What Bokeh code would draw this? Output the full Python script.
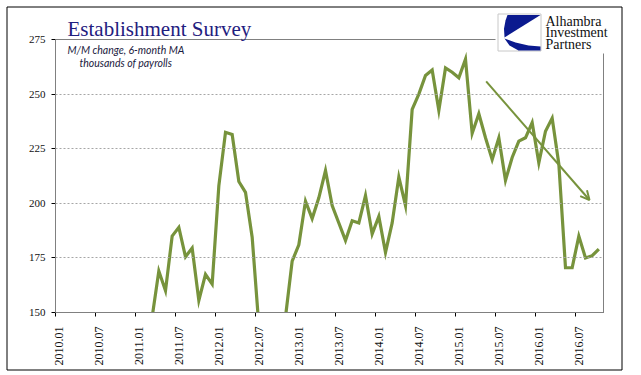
from bokeh.plotting import figure
from bokeh.models import (FixedTicker, Range1d, Label, BoxAnnotation, PolyAnnotation,
                          Arrow, OpenHead, ColumnDataSource)
from bokeh.embed import file_html
from bokeh.resources import INLINE

# ---------------- data ----------------
TICK_LABELS = ["2010.01", "2010.07", "2011.01", "2011.07", "2012.01", "2012.07", "2013.01",
               "2013.07", "2014.01", "2014.07", "2015.01", "2015.07", "2016.01", "2016.07"]
TICK_POS = [0, 6, 12, 18, 24, 30, 36, 42, 48, 54, 60, 66, 72, 78]   # month index of each label
MONTH_INDEX = list(range(82))                                        # 2010.01 .. 2016.10
PAYROLLS_MA6 = [62, 80, 105, 130, 140, 118, 96, 82, 74, 90, 104, 112, 122, 136, 148,
                169, 160, 185, 189, 175.5, 179.5, 155.5, 167.5, 163, 208, 232.5, 231.5, 210,
                205, 184.5, 144, 135, 128, 135, 148, 173.5, 181, 201, 193, 202.5, 215, 199,
                191, 183, 192, 191, 203.5, 186, 194, 177.5, 191, 212, 199, 243, 250, 258.5,
                261, 242.5, 262, 260, 257.5, 266, 232, 241, 230, 220, 230, 210.5, 221, 228.5,
                230, 237, 218.5, 233, 239, 218, 170.5, 170.5, 185, 175, 176, 179]
Y_TICKS = [150, 175, 200, 225, 250, 275]
GRID_TICKS = [175, 200, 225, 250]
ARROW_START = (64.1, 255.8)
ARROW_END = (79.6, 201.5)

TITLE = "Establishment Survey"
SUBTITLE_1 = "M/M change, 6-month MA"
SUBTITLE_2 = "thousands of payrolls"
LOGO_LINES = ["Alhambra", "Investment", "Partners"]

GREEN = "#77933C"
NAVY = "#1F2080"
LOGO_BLUE = "#0B1A8F"

# ---------------- layout geometry (canvas pixels) ----------------
W, H = 623, 371
FL, FR, FT, FB = 55, 603, 39, 312          # plot area inside the canvas
X0, X1, Y0, Y1 = -0.5, 81.7, 150, 275      # data extent of the plot area


def dx(px):
    return X0 + (px - FL) / (FR - FL) * (X1 - X0)


def dy(py):
    return Y1 - (py - FT) / (FB - FT) * (Y1 - Y0)


# the frame covers the whole canvas; the axes are pinned at the plot-area edges
p = figure(width=W, height=H, output_backend="svg", toolbar_location=None, title=None,
           x_range=Range1d(dx(0), dx(W)), y_range=Range1d(dy(H), dy(0)),
           min_border_left=0, min_border_top=0, min_border_right=0, min_border_bottom=0)
p.background_fill_color = "white"
p.border_fill_color = "white"
p.outline_line_color = None

# plot-area outline (gray top / right)
p.add_layout(BoxAnnotation(left=X0, right=X1, bottom=Y0, top=Y1, fill_alpha=0,
                           line_color="#808080", line_alpha=1, line_width=1))

# grid
if "cross_bounds" in p.ygrid[0].properties():
    p.ygrid.cross_bounds = (X0, X1)
    p.ygrid.ticker = FixedTicker(ticks=GRID_TICKS)
    p.ygrid.grid_line_color = "#A6A6A6"
    p.ygrid.grid_line_dash = "2 2"
else:
    p.ygrid.grid_line_color = None
    p.segment(x0=[X0] * len(GRID_TICKS), x1=[X1] * len(GRID_TICKS), y0=GRID_TICKS,
              y1=GRID_TICKS, line_color="#A6A6A6", line_dash="2 2", line_width=1,
              level="underlay")
p.xgrid.grid_line_color = None

src = ColumnDataSource(dict(x=MONTH_INDEX, y=PAYROLLS_MA6))
p.line("x", "y", source=src, line_color=GREEN, line_width=3.2, line_join="miter",
       level="underlay")

C = dict(left_units="canvas", right_units="canvas", top_units="canvas", bottom_units="canvas")
# white mask: hides the part of the series that falls below the plot area
p.add_layout(BoxAnnotation(left=0, right=W, top=FB, bottom=H, level="glyph",
                           fill_color="white", fill_alpha=1, line_alpha=0, **C))

# axes
p.xaxis.fixed_location = Y0
p.xaxis.bounds = (X0, X1)
p.xaxis.ticker = FixedTicker(ticks=TICK_POS, minor_ticks=[t - 0.5 for t in TICK_POS])
p.xaxis.major_label_overrides = {t: l for t, l in zip(TICK_POS, TICK_LABELS)}
p.xaxis.major_label_orientation = 3.14159265 / 2
p.xaxis.major_label_text_font = "Liberation Serif"
p.xaxis.major_label_text_font_size = "12px"
p.xaxis.major_label_text_color = "#111111"
p.xaxis.major_tick_line_color = None
p.xaxis.major_tick_out = 0
p.xaxis.major_tick_in = 0
p.xaxis.minor_tick_line_color = "black"
p.xaxis.minor_tick_out = 4
p.xaxis.minor_tick_in = 0
p.xaxis.major_label_standoff = 10
p.xaxis.axis_line_color = "black"

p.yaxis.fixed_location = X0
p.yaxis.bounds = (Y0, Y1)
p.yaxis.ticker = FixedTicker(ticks=Y_TICKS)
p.yaxis.major_label_text_font = "Liberation Serif"
p.yaxis.major_label_text_font_size = "11px"
p.yaxis.major_label_text_color = "#111111"
p.yaxis.major_tick_out = 4
p.yaxis.major_tick_in = 0
p.yaxis.minor_tick_line_color = None
p.yaxis.major_label_standoff = 6
p.yaxis.axis_line_color = "black"

# title and subtitle
p.add_layout(Label(x=dx(67), y=dy(28), text=TITLE, text_font="Liberation Serif",
                   text_font_size="21px", text_color=NAVY, text_baseline="middle"))
p.add_layout(Label(x=dx(67), y=dy(49), text=SUBTITLE_1, text_font="Lato",
                   text_font_style="italic", text_font_size="10.5px", text_color="#1a1a40",
                   text_baseline="middle"))
p.add_layout(Label(x=dx(79), y=dy(62), text=SUBTITLE_2, text_font="Lato",
                   text_font_style="italic", text_font_size="10.5px", text_color="#1a1a40",
                   text_baseline="middle"))

# trend arrow
p.add_layout(Arrow(x_start=ARROW_START[0], y_start=ARROW_START[1],
                   x_end=ARROW_END[0], y_end=ARROW_END[1],
                   line_color=GREEN, line_width=2,
                   end=OpenHead(size=9, line_color=GREEN, line_width=2)))

# white area behind the logo (interrupts the plot-area lines)
p.add_layout(BoxAnnotation(left=495, right=W, top=0, bottom=53,
                           fill_color="white", fill_alpha=1, line_alpha=0, **C))
# logo
p.add_layout(BoxAnnotation(left=497.5, right=540.5, top=13.5, bottom=50.5,
                           fill_color="white", fill_alpha=1, line_color="#C8C8C8",
                           line_alpha=1, line_width=1, **C))
top_wedge = [(507, 14.5), (540, 14.5), (504, 37), (503.5, 28), (505, 20)]
bottom_wedge = [(504, 38), (515, 42), (528, 45), (540, 46), (540, 50), (518, 50), (509, 45)]
for wedge in (top_wedge, bottom_wedge):
    p.add_layout(PolyAnnotation(xs=[a for a, b in wedge], ys=[b for a, b in wedge],
                                xs_units="canvas", ys_units="canvas",
                                fill_color=LOGO_BLUE, fill_alpha=1, line_alpha=0))
for txt, mid in zip(LOGO_LINES, (20.8, 32.3, 43.8)):
    p.add_layout(Label(x=545, y=mid, x_units="canvas", y_units="canvas", text=txt,
                       text_font="Liberation Serif", text_font_size="14px",
                       text_color="#111111", text_baseline="middle"))

# outer border of the chart
p.add_layout(BoxAnnotation(left=6.5, right=621.5, top=6.5, bottom=369.5,
                           fill_alpha=0, line_color="black", line_alpha=1, line_width=1, **C))

open("out.html", "w").write(file_html(p, INLINE))
